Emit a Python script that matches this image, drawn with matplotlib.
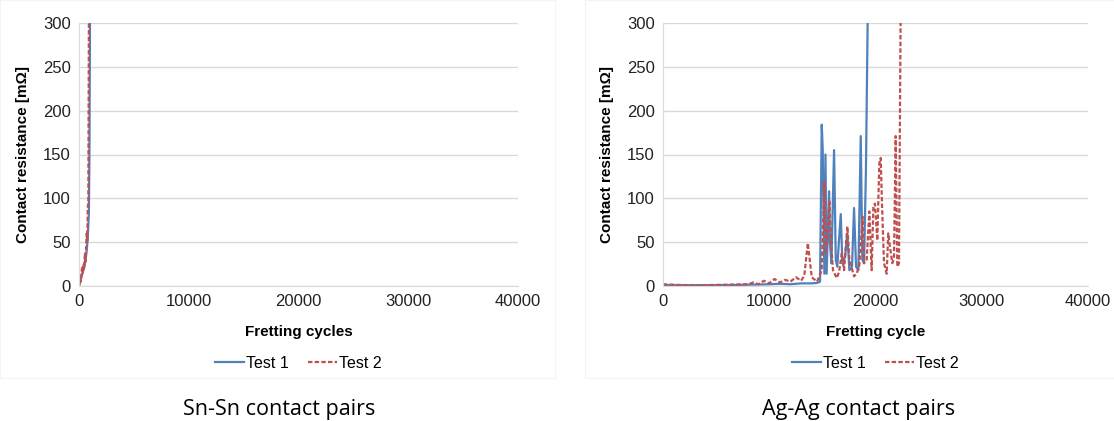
import matplotlib.pyplot as plt
from matplotlib.patches import Rectangle

# Sn-Sn contact pairs
sn_test1_x = [0, 100, 200, 300, 400, 500, 600, 700, 800, 850, 900, 950, 1000, 1030]
sn_test1_y = [0, 4, 9, 14, 18, 22, 30, 40, 55, 70, 83, 150, 300, 400]
sn_test2_x = [0, 50, 100, 150, 200, 250, 300, 350, 400, 450, 500, 550, 600, 650, 700,
              750, 800, 850, 900, 930]
sn_test2_y = [0, 3, 8, 5, 12, 18, 22, 15, 25, 20, 30, 38, 28, 45, 60, 50, 90, 95, 300, 400]

# Ag-Ag contact pairs
ag_test1_x = [0, 2000, 4000, 6000, 8000, 10000, 11000, 12000, 13000, 14000, 14500, 14780,
              14940, 15030, 15190, 15290, 15400, 15630, 15700, 15850, 16100, 16260, 16400,
              16730, 16880, 17130, 17350, 17540, 17790, 17980, 18170, 18390, 18610, 18760,
              18920, 19100, 19260, 19300]
ag_test1_y = [1, 1, 1, 1, 1.5, 2, 2.5, 2, 3, 3, 3.5, 5,
              184, 157, 14, 150, 14, 108, 52, 26, 155, 30, 22,
              82, 26, 33, 60, 18, 22, 89, 22, 18, 171, 30,
              26, 132, 300, 400]
ag_test2_x = [0, 2000, 4000, 6000, 8000, 8500, 9000, 9500, 10000, 10500, 11000, 11500,
              12000, 12500, 13000, 13300, 13630, 14000, 14500, 14940, 15190, 15300, 15470,
              15660, 15800, 16000, 16350, 16570, 16820, 17040, 17350, 17540, 17730, 17980,
              18230, 18480, 18790, 18920, 19170, 19420, 19640, 19800, 19950, 20170, 20360,
              20490, 20610, 20800, 21050, 21200, 21360, 21580, 21740, 21900, 22050, 22210,
              22360, 22400]
ag_test2_y = [2, 1, 1, 1.5, 2, 4, 2, 6, 3, 8, 4, 7,
              5, 10, 6, 12, 49, 10, 5, 18, 119, 37, 52,
              98, 52, 18, 9, 16, 37, 18, 68, 30, 22, 11,
              14, 24, 79, 26, 30, 85, 18, 91, 94, 52, 140,
              146, 94, 26, 14, 60, 45, 26, 32, 171, 22, 26,
              300, 400]

blue = '#4F81BD'
red = '#C0504D'
grid_c = '#D9D9D9'

plt.rcParams['font.family'] = ['Liberation Sans', 'DejaVu Sans']

fig = plt.figure(figsize=(11.14, 4.21), dpi=100)

# faint chart-area frames
for x0, w in [(0.0, 555 / 1114), (585 / 1114, 529 / 1114)]:
    fig.patches.append(Rectangle((x0, 43 / 421), w, 0.999 - 43 / 421, transform=fig.transFigure,
                                 fill=False, edgecolor='#F4F4F4', lw=0.8))

ax1 = fig.add_axes([79 / 1114, 135 / 421, 439 / 1114, 263 / 421])
ax2 = fig.add_axes([663 / 1114, 135 / 421, 425 / 1114, 263 / 421])

panels = [
    (ax1, sn_test1_x, sn_test1_y, sn_test2_x, sn_test2_y, 'Fretting cycles'),
    (ax2, ag_test1_x, ag_test1_y, ag_test2_x, ag_test2_y, 'Fretting cycle'),
]

for ax, x1, y1, x2, y2, xlab in panels:
    ax.plot(x1, y1, color=blue, lw=1.6, label='Test 1')
    ax.plot(x2, y2, color=red, lw=1.6, dashes=(2.0, 1.0), label='Test 2')
    ax.set_xlim(0, 40000)
    ax.set_ylim(0, 300)
    ax.set_xticks([0, 10000, 20000, 30000, 40000])
    ax.set_yticks([0, 50, 100, 150, 200, 250, 300])
    ax.grid(axis='y', color=grid_c, lw=1)
    ax.set_axisbelow(True)
    for s in ['top', 'right']:
        ax.spines[s].set_visible(False)
    ax.spines['left'].set_color(grid_c)
    ax.spines['bottom'].set_color(grid_c)
    ax.tick_params(length=0, labelsize=12, colors='#222222', pad=6)
    ax.set_xlabel(xlab, fontsize=11, fontweight='bold', labelpad=11)
    ax.set_ylabel('Contact resistance [mΩ]', fontsize=11, fontweight='bold', labelpad=9)
    ax.legend(loc='upper center', bbox_to_anchor=(0.5, -0.21), ncol=2, frameon=False,
              fontsize=11.5, handlelength=1.8, handletextpad=0.15, columnspacing=1.2)

fig.text(279 / 1114, 1 - 409 / 421, 'Sn-Sn contact pairs', ha='center', va='center',
         fontsize=15.5, family=['Open Sans', 'DejaVu Sans'])
fig.text(859 / 1114, 1 - 409 / 421, 'Ag-Ag contact pairs', ha='center', va='center',
         fontsize=15.5, family=['Open Sans', 'DejaVu Sans'])

fig.savefig('out.png', dpi=100)
